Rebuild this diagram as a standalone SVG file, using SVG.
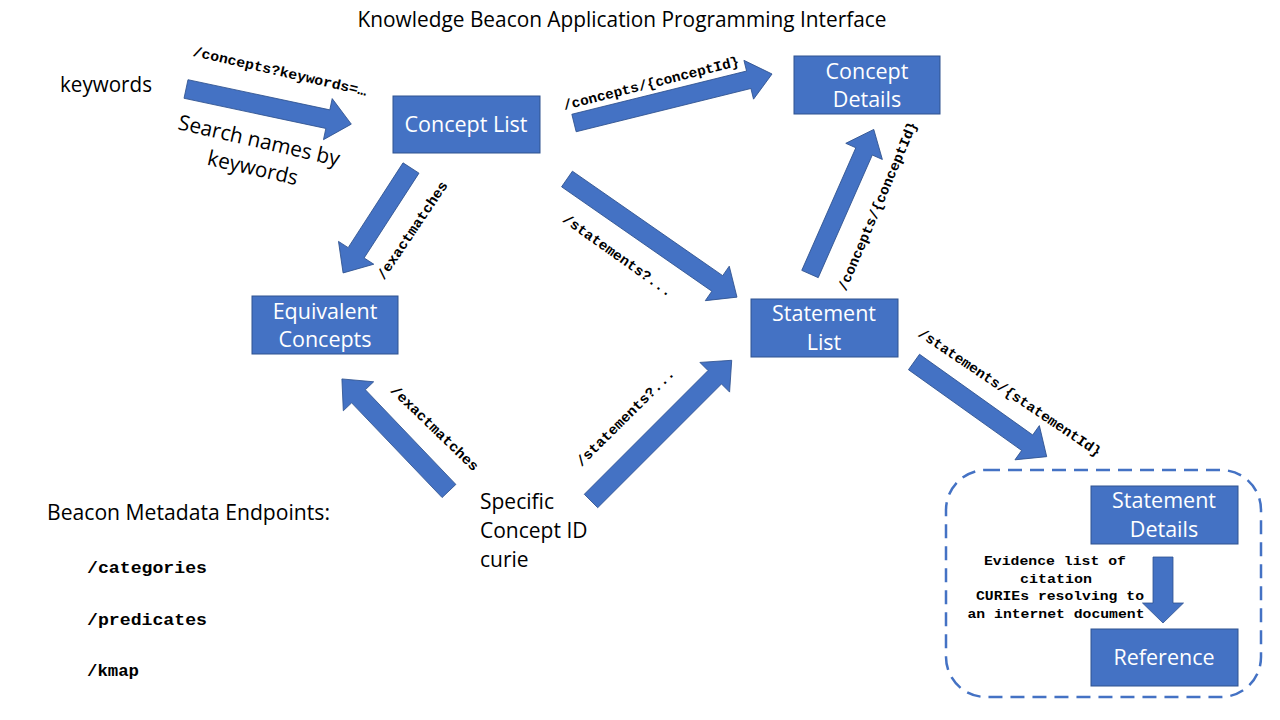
<svg xmlns="http://www.w3.org/2000/svg" width="1280" height="720" viewBox="0 0 1280 720">
<style>
.box{fill:#4472C4;stroke:#2F528F;stroke-width:1}
.bt{font-family:"Open Sans","Liberation Sans",sans-serif;font-size:21.5px;fill:#FFFFFF;text-anchor:middle}
.t{font-family:"Open Sans","Liberation Sans",sans-serif;font-size:21px;fill:#000000}
.arr{fill:#4472C4;stroke:#2F528F;stroke-width:0.8}
.lbl{font-family:"Liberation Mono","Courier New",monospace;font-size:14px;font-weight:bold;fill:#000000;text-anchor:middle}
.ep{font-family:"Liberation Mono","Courier New",monospace;font-size:17px;font-weight:bold;fill:#000000}
.ev{font-family:"Liberation Mono","Courier New",monospace;font-size:13px;font-weight:bold;fill:#000000;text-anchor:middle}
</style>
<rect width="1280" height="720" fill="#FFFFFF"/>
<text class="t" x="622" y="27" text-anchor="middle" textLength="529" lengthAdjust="spacingAndGlyphs">Knowledge Beacon Application Programming Interface</text>

<g id="connectors">
  <polygon class="arr" transform="translate(186,89) rotate(12)" points="0,-9.5 145,-9.5 145,-21 169,0 145,21 145,9.5 0,9.5"/>
  <polygon class="arr" transform="translate(574,123) rotate(-13.9)" points="0,-9 180,-9 180,-20 204,0 180,20 180,9 0,9"/>
  <polygon class="arr" transform="translate(567,179) rotate(34.8)" points="0,-9.5 183,-9.5 183,-21 207,0 183,21 183,9.5 0,9.5"/>
  <polygon class="arr" transform="translate(810,274) rotate(-66.2)" points="0,-9 134,-9 134,-20 158,0 134,20 134,9 0,9"/>
  <polygon class="arr" transform="translate(411,168) rotate(122.9)" points="0,-9.5 101,-9.5 101,-21 125,0 101,21 101,9.5 0,9.5"/>
  <polygon class="arr" transform="translate(449,491) rotate(226.3)" points="0,-9.5 131,-9.5 131,-21 155,0 131,21 131,9.5 0,9.5"/>
  <polygon class="arr" transform="translate(591,501) rotate(-45)" points="0,-9.5 175,-9.5 175,-21 199,0 175,21 175,9.5 0,9.5"/>
  <polygon class="arr" transform="translate(914,362) rotate(35.5)" points="0,-9.5 139,-9.5 139,-21 163,0 139,21 139,9.5 0,9.5"/>
  <polygon class="arr" transform="translate(1163,557) rotate(90)" points="0,-10 46,-10 46,-20.5 66,0 46,20.5 46,10 0,10"/>

  <text class="lbl" transform="translate(280,71) rotate(13)" dy="0.35em" textLength="178" lengthAdjust="spacingAndGlyphs">/concepts?keywords=…</text>
  <text class="lbl" transform="translate(651,83) rotate(-14.3)" dy="0.35em" textLength="181" lengthAdjust="spacingAndGlyphs">/concepts/{conceptId}</text>
  <text class="lbl" transform="translate(412,230) rotate(-56)" dy="0.35em" textLength="115" lengthAdjust="spacingAndGlyphs">/exactmatches</text>
  <text class="lbl" transform="translate(618,255) rotate(35.4)" dy="0.35em" textLength="131" lengthAdjust="spacingAndGlyphs">/statements?...</text>
  <text class="lbl" transform="translate(877,206) rotate(-67)" dy="0.35em" textLength="182" lengthAdjust="spacingAndGlyphs">/concepts/{conceptId}</text>
  <text class="lbl" transform="translate(1010,392) rotate(34)" dy="0.35em" textLength="217" lengthAdjust="spacingAndGlyphs">/statements/{statementId}</text>
  <text class="lbl" transform="translate(435,428) rotate(44)" dy="0.35em" textLength="116" lengthAdjust="spacingAndGlyphs">/exactmatches</text>
  <text class="lbl" transform="translate(625,417) rotate(-44.7)" dy="0.35em" textLength="132" lengthAdjust="spacingAndGlyphs">/statements?...</text>
</g>

<g id="keywords">
  <text class="t" x="60" y="92" textLength="92" lengthAdjust="spacingAndGlyphs">keywords</text>
  <g transform="translate(256,154) rotate(13)">
    <text class="t" x="0" y="-14" dy="0.35em" text-anchor="middle" font-size="22" textLength="165" lengthAdjust="spacingAndGlyphs">Search names by</text>
    <text class="t" x="0" y="14" dy="0.35em" text-anchor="middle" font-size="22" textLength="92" lengthAdjust="spacingAndGlyphs">keywords</text>
  </g>
</g>

<g id="concept-list">
  <rect class="box" x="393" y="96" width="147" height="57"/>
  <text class="bt" x="466" y="132">Concept List</text>
</g>

<g id="concept-details">
  <rect class="box" x="794" y="56" width="146" height="58"/>
  <text class="bt" x="867" y="79">Concept</text>
  <text class="bt" x="867" y="107">Details</text>
</g>

<g id="equivalent-concepts">
  <rect class="box" x="252" y="296" width="146" height="58"/>
  <text class="bt" x="325" y="319">Equivalent</text>
  <text class="bt" x="325" y="347">Concepts</text>
</g>

<g id="statement-list">
  <rect class="box" x="751" y="299" width="147" height="58"/>
  <text class="bt" x="824" y="321">Statement</text>
  <text class="bt" x="824" y="350">List</text>
</g>

<g id="specific-concept">
  <text class="t" x="480" y="509">Specific</text>
  <text class="t" x="480" y="538">Concept ID</text>
  <text class="t" x="480" y="567">curie</text>
</g>

<g id="metadata-endpoints">
  <text class="t" x="47" y="520" textLength="283" lengthAdjust="spacingAndGlyphs">Beacon Metadata Endpoints:</text>
  <text class="ep" x="87" y="573" textLength="120" lengthAdjust="spacingAndGlyphs">/categories</text>
  <text class="ep" x="87" y="625" textLength="120" lengthAdjust="spacingAndGlyphs">/predicates</text>
  <text class="ep" x="87" y="676" textLength="52" lengthAdjust="spacingAndGlyphs">/kmap</text>
</g>

<g id="statement-group">
  <rect x="946" y="470" width="315" height="227" rx="40" ry="40" fill="none" stroke="#4472C4" stroke-width="2.5" stroke-dasharray="14 8"/>
</g>

<g id="statement-details">
  <rect class="box" x="1091" y="486" width="147" height="58"/>
  <text class="bt" x="1164" y="508">Statement</text>
  <text class="bt" x="1164" y="537">Details</text>
</g>

<g id="evidence-label">
  <text class="ev" x="1055" y="565" textLength="142" lengthAdjust="spacingAndGlyphs">Evidence list of</text>
  <text class="ev" x="1056" y="583" textLength="72" lengthAdjust="spacingAndGlyphs">citation</text>
  <text class="ev" x="1060" y="600" textLength="168" lengthAdjust="spacingAndGlyphs">CURIEs resolving to</text>
  <text class="ev" x="1056" y="618" textLength="177" lengthAdjust="spacingAndGlyphs">an internet document</text>
</g>

<g id="reference">
  <rect class="box" x="1091" y="629" width="147" height="57"/>
  <text class="bt" x="1164" y="665">Reference</text>
</g>
</svg>
